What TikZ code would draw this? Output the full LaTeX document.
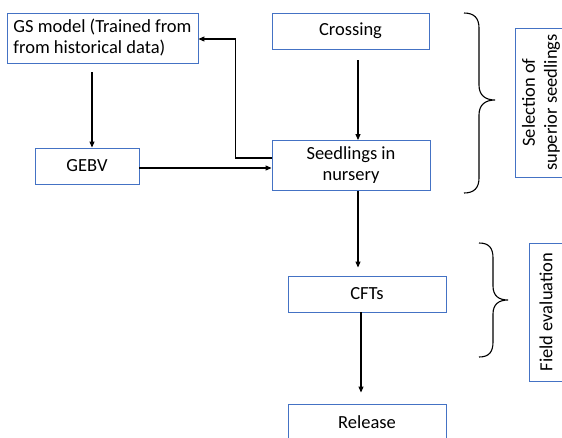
\documentclass[tikz,border=0pt]{standalone}
\usepackage{fontspec}
\setmainfont{Carlito}
\usetikzlibrary{arrows.meta,calc}
\definecolor{boxblue}{RGB}{68,114,196}
\begin{document}
\begin{tikzpicture}[x=1pt,y=-1pt,
  font=\fontsize{18.5}{21}\selectfont,
  box/.style={draw=boxblue,line width=0.9pt,fill=white,inner sep=2pt,align=center},
  arr/.style={-{Triangle[length=6pt,width=5pt]},line width=1.1pt},
  brace/.style={line width=1.1pt}]
\useasboundingbox (0,0) rectangle (562,437);
\begin{scope}
\clip (0,0) rectangle (562,437);

% process boxes
\node[box,minimum width=191pt,minimum height=50pt,align=left] (gs) at (102.5,38)
  {GS model (Trained from\\from historical data)};
\node[box,minimum width=104pt,minimum height=36pt] (gebv) at (87,166) {GEBV};
\node[box,minimum width=157pt,minimum height=36pt] (cross) at (350.5,31) {Crossing};
\node[box,minimum width=158pt,minimum height=50pt] (seed) at (351,165.5) {Seedlings in\\nursery};
\node[box,minimum width=158pt,minimum height=36pt] (cft) at (367,294) {CFTs};
\node[box,minimum width=158pt,minimum height=36pt] (rel) at (367,422) {Release};

% stage labels
\node[box,rotate=90,minimum width=149pt,minimum height=52pt,font=\fontsize{18.5}{22}\selectfont] (sel) at (541,102.5)
  {Selection of\\superior seedlings};
\node[box,rotate=90,minimum width=138pt,minimum height=34pt] (field) at (546,312) {Field evaluation};

% connectors
\draw[arr] ([xshift=-10.5pt,yshift=-9pt]gs.south) -- ([xshift=-10.5pt]gs.south |- gebv.north);
\draw[arr] ([xshift=7.5pt,yshift=-11pt]cross.south) -- ([xshift=7.5pt]cross.south |- seed.north);
\draw[arr] ([yshift=7.5pt]seed.west) -| ($(gs.east)+(37,1)$) -- ([yshift=-1pt]gs.east);
\draw[arr] ([yshift=-2pt]gebv.east) -- ([yshift=-2pt]gebv.east -| seed.west);
\draw[arr,shorten >=8pt] ([xshift=7pt]seed.south) -- ([xshift=7pt]seed.south |- cft.north);
\draw[arr,shorten >=11pt] ([xshift=-6pt]cft.south) -- ([xshift=-6pt]cft.south |- rel.north);

% braces
\draw[brace] (464,13) .. controls (474,13) and (479,18) .. (479,28)
  -- (479,85) .. controls (479,95) and (485,100) .. (495,100)
  .. controls (485,100) and (479,105) .. (479,115)
  -- (479,178) .. controls (479,188) and (474,193) .. (464,193);
\draw[brace] (479,243) .. controls (489,243) and (493,248) .. (493,258)
  -- (493,286) .. controls (493,296) and (499,300) .. (508,300)
  .. controls (499,300) and (493,304) .. (493,314)
  -- (493,342) .. controls (493,352) and (489,357) .. (479,357);
\end{scope}
\end{tikzpicture}
\end{document}
